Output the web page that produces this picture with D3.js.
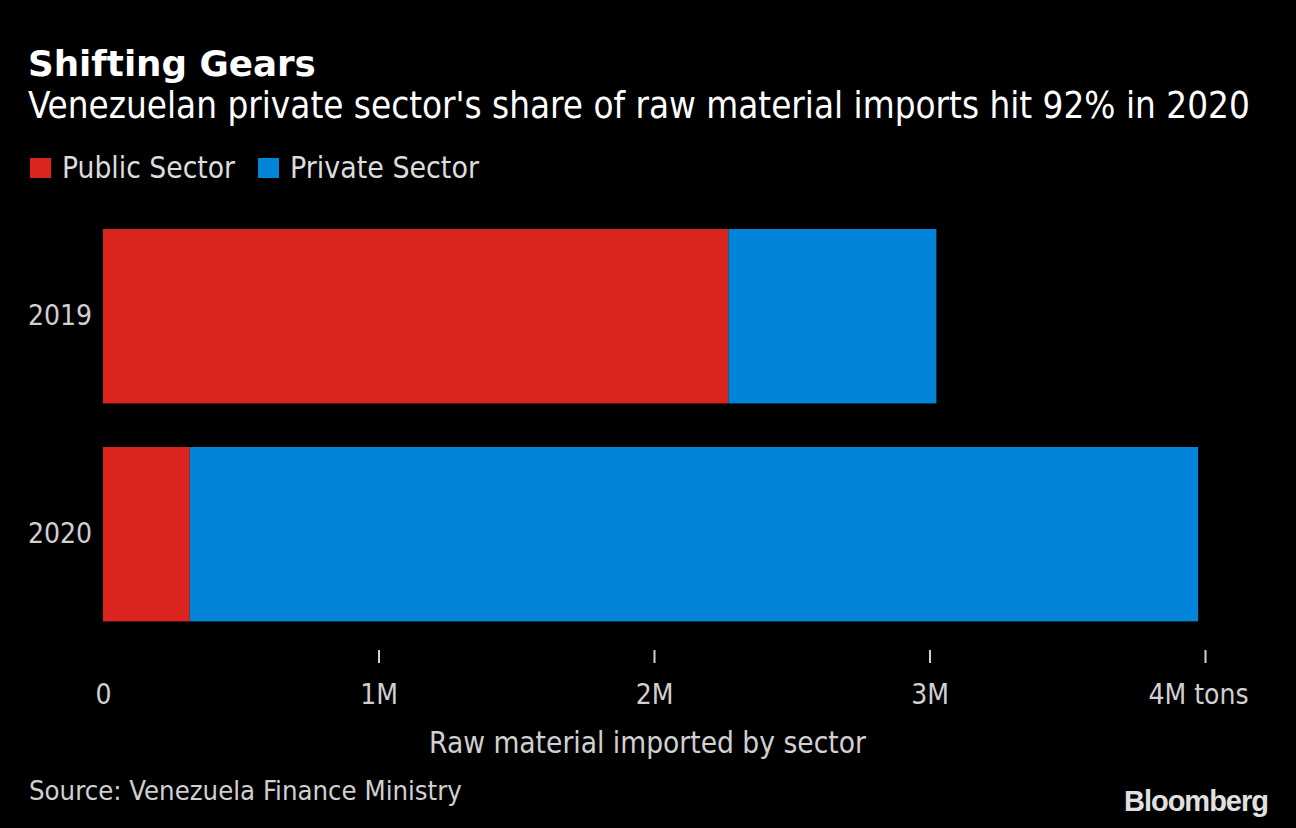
<!DOCTYPE html>
<html><head><meta charset="utf-8">
<script src="https://cdn.jsdelivr.net/npm/d3@7"></script>
<style>
html,body{margin:0;padding:0;background:#000;}
svg{display:block;}
text{font-family:"DejaVu Sans Condensed","DejaVu Sans",sans-serif;font-stretch:condensed;}
</style></head>
<body>
<svg id="c" width="1296" height="828"></svg>
<script>
const years = ["2019", "2020"];
const publicSector = [2.27e6, 0.315e6];
const privateSector = [0.755e6, 3.66e6];
const seriesNames = ["Public Sector", "Private Sector"];
const seriesColors = ["#da251f", "#0284d8"];
const tickValues = [0, 1e6, 2e6, 3e6, 4e6];
const tickLabels = ["0", "1M", "2M", "3M", "4M tons"];

const svg = d3.select("#c");
svg.append("rect").attr("width",1296).attr("height",828).attr("fill","#000");

// fit text to a measured width from the reference
function fit(sel, w){
  sel.each(function(){
    const n = this.getComputedTextLength();
    const fs = parseFloat(d3.select(this).attr("font-size"));
    d3.select(this).attr("font-size", (fs*w/n).toFixed(2));
  });
  return sel;
}

const x = d3.scaleLinear().domain([0, 4e6]).range([103, 1205]);
const y = d3.scaleBand().domain(years).range([207.2, 643.2]).paddingInner(0.2).paddingOuter(0.1);

// Title
svg.append("text").attr("x",28).attr("y",76).attr("fill","#fff")
  .style("font-family","'DejaVu Sans'").style("font-stretch","normal")
  .attr("font-weight","bold").attr("font-size",34).text("Shifting Gears").call(fit,288);
svg.append("text").attr("x",28).attr("y",118).attr("fill","#fff")
  .attr("font-size",32).text("Venezuelan private sector's share of raw material imports hit 92% in 2020").call(fit,1222);

// Legend
const legX = [30, 258];
const legW = [173, 189];
seriesNames.forEach((n,i)=>{
  svg.append("rect").attr("x",legX[i]).attr("y",158).attr("width",21).attr("height",20).attr("fill",seriesColors[i]);
  svg.append("text").attr("x",legX[i]+32).attr("y",178).attr("fill","#dcdcdc").attr("font-size",27).text(n).call(fit,legW[i]);
});

// Stacked bars
const rows = years.map((yr,i)=>({year:yr, Public:publicSector[i], Private:privateSector[i]}));
const stack = d3.stack().keys(["Public","Private"])(rows);
svg.append("g").selectAll("g").data(stack).join("g")
  .attr("fill",(d,i)=>seriesColors[i])
  .selectAll("rect").data(d=>d).join("rect")
  .attr("x",d=>x(d[0])).attr("width",d=>x(d[1])-x(d[0]))
  .attr("y",d=>y(d.data.year)).attr("height",y.bandwidth());

// Y labels
svg.append("g").selectAll("text").data(years).join("text")
  .attr("x",92).attr("y",d=>y(d)+y.bandwidth()/2+9).attr("text-anchor","end")
  .attr("fill","#d0d0d0").attr("font-size",28).text(d=>d);

// X axis
const xAxis = d3.axisBottom(x).tickValues(tickValues).tickSize(13)
  .tickFormat((d,i)=>tickLabels[i]).tickPadding(28);
const ax = svg.append("g").attr("transform","translate(0,650)").call(xAxis);
ax.select(".domain").remove();
ax.selectAll(".tick line").attr("stroke","#d0d0d0").attr("stroke-width",2)
  .attr("opacity",(d)=>d===0?0:1);
ax.selectAll(".tick text").attr("fill","#d0d0d0").attr("font-size",28)
  .style("font-family","'DejaVu Sans Condensed','DejaVu Sans',sans-serif")
  .attr("dy",null).attr("y",54).attr("dx",(d,i)=>i===4?-7:0);

svg.append("text").attr("x",(103+1205)/2-6.5).attr("y",753).attr("text-anchor","middle")
  .attr("fill","#d0d0d0").attr("font-size",27).text("Raw material imported by sector").call(fit,437);

svg.append("text").attr("x",29).attr("y",800).attr("fill","#d0d0d0")
  .attr("font-size",26).text("Source: Venezuela Finance Ministry").call(fit,433);

svg.append("text").attr("x",1268).attr("y",811).attr("text-anchor","end")
  .attr("fill","#e0e0e0").attr("font-weight","bold").attr("font-size",29)
  .style("font-family","'Liberation Sans',Arial,sans-serif").style("font-stretch","normal")
  .style("letter-spacing","-1px").text("Bloomberg");
</script>
</body></html>
